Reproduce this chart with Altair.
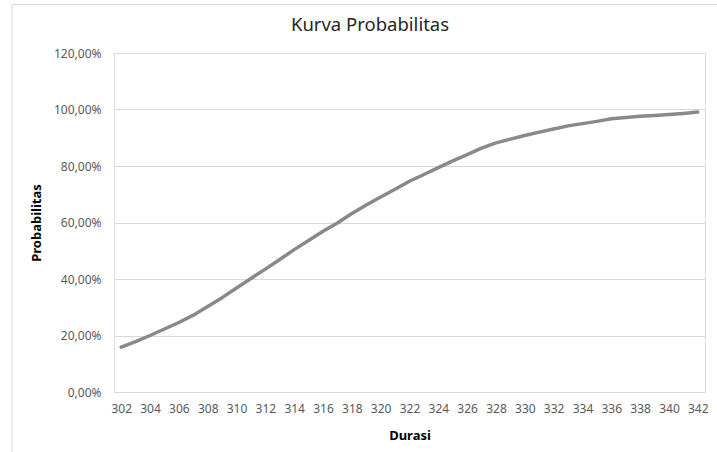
import altair as alt
import pandas as pd

durasi = list(range(302, 343))
probabilitas = [
    15.9, 17.8, 20.0, 22.3, 24.6, 27.2, 30.3, 33.4, 36.8, 40.2,
    43.5, 46.9, 50.4, 53.6, 56.9, 59.8, 63.2, 66.2, 69.0, 71.8,
    74.6, 77.0, 79.4, 81.8, 84.0, 86.3, 88.2, 89.5, 90.8, 92.0,
    93.1, 94.2, 95.0, 95.8, 96.7, 97.2, 97.6, 97.9, 98.2, 98.6,
    99.1,
]
x_ticks = list(range(302, 343, 2))
y_ticks = [0, 20, 40, 60, 80, 100, 120]
title_text = "Kurva Probabilitas"

df = pd.DataFrame({"Durasi": durasi, "Probabilitas": probabilitas})

FONT = "Noto Sans"
W, H = 591, 339
PL, PT = 114, 53

deco = pd.DataFrame({"t": [title_text]})

border = alt.Chart(deco).mark_rect(
    fill=None, stroke="#d9d9d9", strokeWidth=1
).encode(
    x=alt.value(12 - PL), x2=alt.value(717 - PL + 20),
    y=alt.value(4.5 - PT), y2=alt.value(452 - PT + 20),
)

title = alt.Chart(deco).mark_text(
    font=FONT, fontSize=18.5, color="#262626", align="center", baseline="middle"
).encode(
    text="t:N", x=alt.value(370 - PL), y=alt.value(25 - PT),
)

line = alt.Chart(df).mark_line(
    color="#898989", strokeWidth=3.5, strokeCap="round", strokeJoin="round"
).encode(
    x=alt.X("Durasi:Q",
            scale=alt.Scale(domain=[301.5, 342.5], nice=False, zero=False),
            axis=alt.Axis(values=x_ticks, grid=False, domain=False, ticks=False,
                          labelPadding=11, labelFontSize=12, labelColor="#595959",
                          labelFont=FONT, title="Durasi", titleFont=FONT,
                          titleFontSize=13, titleFontWeight="bold",
                          titleColor="#000000", titlePadding=15,
                          labelFlush=False, format="d")),
    y=alt.Y("Probabilitas:Q",
            scale=alt.Scale(domain=[0, 120], nice=False),
            axis=alt.Axis(values=y_ticks, grid=True, gridColor="#d9d9d9",
                          gridWidth=1, domain=False, ticks=False,
                          labelPadding=13, labelFontSize=12, labelColor="#595959",
                          labelFont=FONT,
                          labelExpr="replace(format(datum.value, '.2f'), '.', ',') + '%'",
                          title="Probabilitas", titleFont=FONT, titleFontSize=13,
                          titleFontWeight="bold", titleColor="#000000",
                          titlePadding=10)),
)

chart = alt.layer(border, line, title).properties(
    width=W, height=H,
    autosize=alt.AutoSizeParams(type="none"),
    padding={"left": PL, "top": PT, "right": 717 - PL - W, "bottom": 452 - PT - H},
).configure_view(stroke=None).configure(background="white")

chart.save("out.html", embed_options={"renderer": "svg", "actions": False})
